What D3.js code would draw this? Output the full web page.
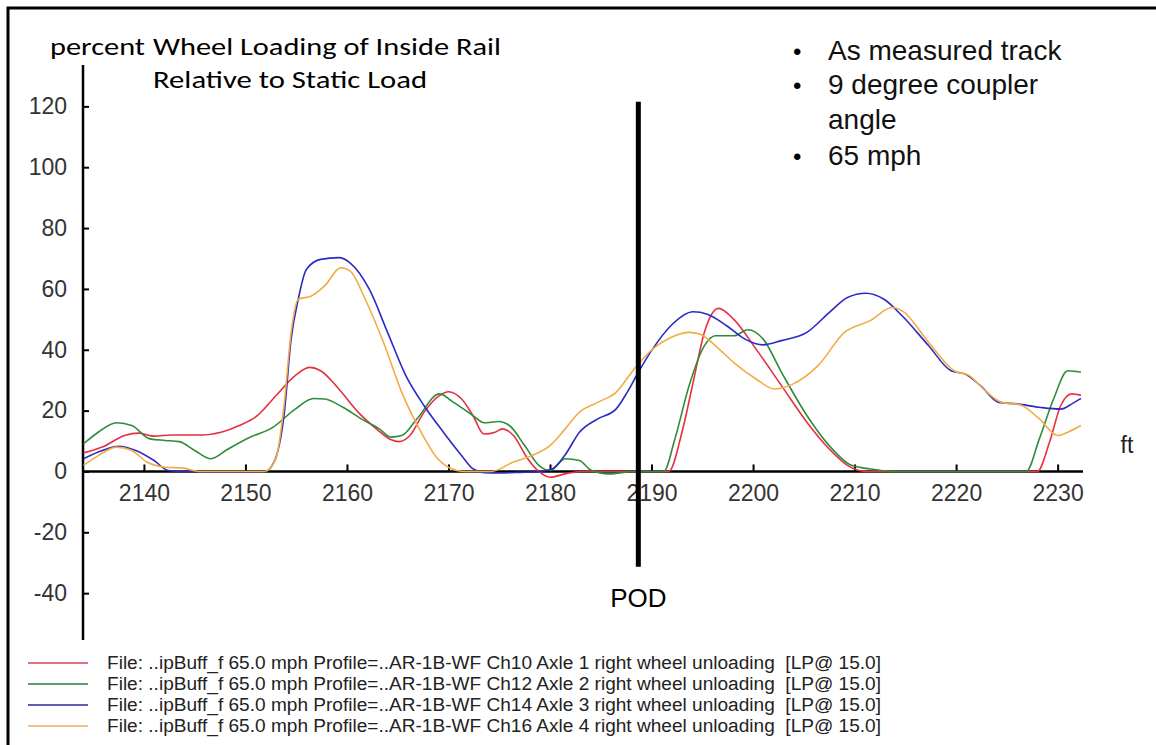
<!DOCTYPE html>
<html>
<head>
<meta charset="utf-8">
<script src="https://cdn.jsdelivr.net/npm/d3@7/dist/d3.min.js"></script>
<style>
  html, body { margin: 0; padding: 0; background: #fff; }
  svg { display: block; }
</style>
</head>
<body>
<svg id="chart" width="1156" height="745"></svg>
<script>
// ---------- data ----------
const xTicks = [2140, 2150, 2160, 2170, 2180, 2190, 2200, 2210, 2220, 2230];
const yTicks = [-40, -20, 0, 20, 40, 60, 80, 100, 120];

const axle1 = [[2134.05,6.1],[2135.9,8],[2138.1,11.8],[2139.5,12.6],[2141,11.6],[2142.8,12],[2145.7,12],[2147.6,12.9],[2149.4,15.1],[2151.2,18.4],[2153,24.9],[2154.9,31.5],[2156.3,34.2],[2157.4,33.1],[2159.2,27.1],[2161.1,19.5],[2162.9,14],[2164.3,10.5],[2165.1,9.8],[2166.2,11.8],[2167.6,19.5],[2169.1,24.9],[2170,26.2],[2171.3,23.8],[2172.4,18.4],[2173.5,12.3],[2174.6,12.9],[2175.3,14],[2176.4,11.8],[2177.8,4.2],[2178.9,0],[2180,-1.9],[2181.5,-0.8],[2183,0],[2186,0],[2189,0],[2191.7,0],[2193,12.9],[2194.1,29.3],[2195.2,45.7],[2196.6,53.6],[2198.1,50],[2200.3,40.2],[2202.8,28.2],[2205.3,16.2],[2207.5,7.4],[2209.3,2],[2211.1,0],[2220,0],[2228,0],[2229.2,9.6],[2230.3,21.6],[2231.4,25.5],[2232.3,25]];

const axle2 = [[2134.05,9.1],[2135.5,12.9],[2137.3,16],[2138.8,15.1],[2140.6,10.7],[2142.1,10.2],[2143.5,9.8],[2145,6.9],[2146.6,4.2],[2148.3,7.4],[2150.5,11.3],[2152.7,14.5],[2154.9,20.5],[2156.7,24],[2157.8,23.8],[2159.6,21.1],[2161.4,17.3],[2163.2,14],[2164.3,11.3],[2165.4,11.8],[2166.9,17.3],[2169.1,25.5],[2170.5,22.7],[2172.4,18.4],[2173.5,16],[2174.9,16.4],[2176,15.1],[2177.5,8.5],[2178.9,2],[2180,0.3],[2181.5,4.2],[2182.9,3.6],[2184,0.5],[2185.8,-0.8],[2188.3,0],[2191.2,0],[2192.3,10.7],[2193.7,28.2],[2195.2,41.3],[2196.3,44.6],[2198.1,44.6],[2199.5,46.6],[2201,43.5],[2202.8,32.6],[2205.3,18.4],[2207.5,8.5],[2209.7,2],[2211.8,0.7],[2213.7,0],[2220,0],[2226.9,0],[2228.2,10.7],[2229.6,23.8],[2231,33.1],[2232.3,32.6]];

const axle3 = [[2134.05,4.2],[2135.9,6.9],[2137.5,8.3],[2139.2,6.9],[2141,3.6],[2142.4,0.3],[2143.9,0],[2148,0],[2151.9,0],[2152.8,3],[2153.8,18.4],[2154.5,43.5],[2155.2,56.6],[2156,66.4],[2157.4,69.7],[2159.2,70.3],[2160.3,68.6],[2162.2,59.9],[2164,45.7],[2165.8,31.5],[2167.6,21.6],[2169.5,12.9],[2171.3,5.2],[2172.4,0.9],[2173.5,-0.4],[2175,-0.5],[2177,-0.3],[2179,0],[2180.2,0.8],[2181.5,5.5],[2182.9,12.9],[2184.7,17.3],[2186.5,20.5],[2187.6,26],[2188.7,32.6],[2190.1,40.2],[2191.9,47.9],[2194.1,52.5],[2195.5,51.7],[2197.4,47.9],[2199.2,43.5],[2201,41.6],[2202.8,43],[2205.3,45.7],[2207.5,52.2],[2209.3,57.2],[2211.1,58.6],[2212.9,56.6],[2214.7,51.1],[2217.3,41.3],[2219.5,33.1],[2220.9,32],[2222.4,28.2],[2224.2,22.7],[2226,22.2],[2228.2,21.1],[2230.3,20.5],[2231.4,22.2],[2232.3,24]];

const axle4 = [[2134.05,2],[2135.5,5.2],[2137.3,8],[2138.8,6.9],[2140.3,3.1],[2142.1,1.4],[2143.9,1.1],[2145.4,0],[2151.9,0],[2153,4.2],[2153.8,21.6],[2154.5,45.7],[2155.2,56.6],[2156.5,57.7],[2157.8,61],[2159.4,67],[2160.3,65.9],[2161.8,56.6],[2163.6,42.4],[2165.4,26],[2167.3,12.9],[2168.7,5.2],[2170,1.4],[2171.6,0],[2174.2,0],[2176.4,3.1],[2178.2,5.2],[2180,8.5],[2181.5,14],[2182.9,19.5],[2184.7,22.7],[2186.5,26],[2188.3,33.7],[2190.1,40.2],[2191.9,44],[2193.7,45.7],[2194.8,45.1],[2196.3,41.3],[2198.1,35.8],[2200.3,30.4],[2202.1,27.1],[2203.9,28.7],[2206.4,34.8],[2209,45.7],[2211.5,49.5],[2213.7,53.9],[2214.7,52.8],[2217.3,42.4],[2219.8,33.1],[2221.3,31.5],[2222.7,27.1],[2224.5,22.7],[2226.3,21.9],[2228.2,17.3],[2230,11.8],[2231,12.9],[2232.3,15.1]];

const seriesNames = [
  "File: ..ipBuff_f 65.0 mph Profile=..AR-1B-WF Ch10 Axle 1 right wheel unloading  [LP@ 15.0]",
  "File: ..ipBuff_f 65.0 mph Profile=..AR-1B-WF Ch12 Axle 2 right wheel unloading  [LP@ 15.0]",
  "File: ..ipBuff_f 65.0 mph Profile=..AR-1B-WF Ch14 Axle 3 right wheel unloading  [LP@ 15.0]",
  "File: ..ipBuff_f 65.0 mph Profile=..AR-1B-WF Ch16 Axle 4 right wheel unloading  [LP@ 15.0]"
];
const seriesData = [axle1, axle2, axle3, axle4];
const seriesColors = ["#e63040", "#2e8c3c", "#2b2bc4", "#f2ab45"];
const legendColors = ["#e2707e", "#5f9e68", "#5d5db4", "#efc287"];

const podFt = 2188.7;
const podRange = [-31.3, 121.5];
const titleLines = ["Wheel Loading of Inside Rail", "Relative to Static Load"];
const bullets = ["As measured track", "9 degree coupler", "angle", "65 mph"];

// ---------- layout ----------
const svg = d3.select("#chart");
const x = d3.scaleLinear().domain([2134, 2232.5]).range([83, 1083]);
const y = d3.scaleLinear().domain([-55.4, 133.6]).range([640, 65]);

// frame
svg.append("path")
  .attr("d", "M8,745 L8,8 L1160,8")
  .attr("fill", "none").attr("stroke", "#000").attr("stroke-width", 3);

// axes
const tickFont = "'Liberation Sans', Arial, sans-serif";
const gx = svg.append("g").attr("transform", `translate(0,${y(0)})`)
  .call(d3.axisBottom(x).tickValues(xTicks).tickSize(-7).tickPadding(0).tickFormat(d => String(d)));
gx.select(".domain").remove();
gx.selectAll(".tick line").attr("stroke", "#000").attr("stroke-width", 2);
gx.selectAll(".tick text").attr("dy", 0).attr("y", 30)
  .style("font-family", tickFont).style("font-size", "23px").attr("fill", "#333");
svg.append("line").attr("x1", x.range()[0]).attr("x2", x.range()[1])
  .attr("y1", y(0)).attr("y2", y(0)).attr("stroke", "#000").attr("stroke-width", 2.5);

const gy = svg.append("g").attr("transform", `translate(${x.range()[0]},0)`)
  .call(d3.axisLeft(y).tickValues(yTicks).tickSize(-6).tickPadding(16).tickFormat(d => String(d)));
gy.select(".domain").remove();
gy.selectAll(".tick line").attr("stroke", "#000").attr("stroke-width", 2);
gy.selectAll(".tick text").style("font-family", tickFont).style("font-size", "23px").attr("fill", "#333");
svg.append("line").attr("x1", x.range()[0]).attr("x2", x.range()[0])
  .attr("y1", y.range()[0]).attr("y2", y.range()[1]).attr("stroke", "#000").attr("stroke-width", 2.5);

// curves
const line = d3.line().x(d => x(d[0])).y(d => y(d[1])).curve(d3.curveMonotoneX);
seriesData.forEach((s, i) => {
  svg.append("path").datum(s).attr("d", line)
    .attr("fill", "none").attr("stroke", seriesColors[i]).attr("stroke-width", 1.6);
});

// POD line
svg.append("line").attr("x1", x(podFt)).attr("x2", x(podFt))
  .attr("y1", y(podRange[0])).attr("y2", y(podRange[1]))
  .attr("stroke", "#000").attr("stroke-width", 5);
svg.append("text").attr("x", x(podFt)).attr("y", 607).attr("text-anchor", "middle")
  .style("font-family", tickFont).style("font-size", "26px").text("POD");

// axis labels
const titleFont = "Carlito, Lato, 'Open Sans', sans-serif";
svg.append("text").attr("x", 50).attr("y", 55).style("font-family", titleFont)
  .style("font-size", "24px").attr("textLength", 95).attr("lengthAdjust", "spacingAndGlyphs").text("percent");
svg.append("text").attr("x", 1127).attr("y", 453).attr("text-anchor", "middle")
  .style("font-family", tickFont).style("font-size", "23px").attr("fill", "#222").text("ft");

// title
const titleW = [348, 274];
titleLines.forEach((t, i) => {
  svg.append("text").attr("x", 153).attr("y", 55 + i * 33).style("font-family", titleFont)
    .style("font-size", "24px").attr("textLength", titleW[i]).attr("lengthAdjust", "spacingAndGlyphs").text(t);
});

// bullets
const bulletY = [60, 94, 129, 165];
bullets.forEach((t, i) => {
  if (i !== 2) {
    svg.append("text").attr("x", 793).attr("y", bulletY[i]).style("font-family", tickFont)
      .style("font-size", "24px").text("\u2022");
  }
  svg.append("text").attr("x", 828).attr("y", bulletY[i]).style("font-family", tickFont)
    .style("font-size", "28px").attr("fill", "#111").text(t);
});

// legend
seriesNames.forEach((n, i) => {
  const ly = 663 + i * 21;
  svg.append("line").attr("x1", 28).attr("x2", 88).attr("y1", ly).attr("y2", ly)
    .attr("stroke", legendColors[i]).attr("stroke-width", 2);
  svg.append("text").attr("x", 107).attr("y", ly + 6)
    .style("font-family", "'Liberation Sans Narrow', 'Arial Narrow', 'Liberation Sans', sans-serif")
    .style("font-size", "18px").style("white-space", "pre").attr("fill", "#222")
    .attr("textLength", 774).attr("lengthAdjust", "spacingAndGlyphs").text(n);
});
</script>
</body>
</html>
